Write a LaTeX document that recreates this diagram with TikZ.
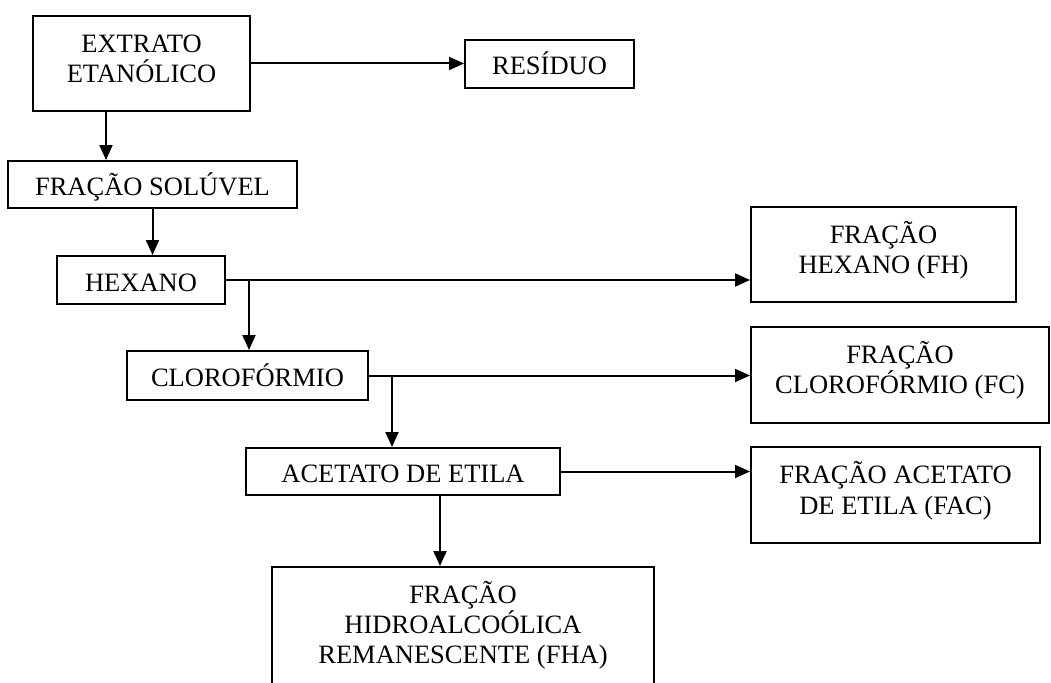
\documentclass[tikz,border=0pt]{standalone}
\usepackage{fontspec}
\setmainfont{Liberation Serif}
\usetikzlibrary{arrows.meta}
\tikzset{
  box/.style={draw, line width=2pt, inner sep=0pt, fill=none},
  txt/.style={anchor=base, inner sep=0pt, font=\fontsize{26.5}{30}\selectfont},
  arr/.style={line width=2pt, -{Triangle[length=15pt,width=13pt]}},
}
\begin{document}
\begin{tikzpicture}[x=1pt,y=-1pt]
\clip (0,0) rectangle (1051,682);
\fill[white] (0,0) rectangle (1051,682);
% boxes
\node[box, minimum width=217pt, minimum height=95pt] (ext) at (141.5,63.5) {};
\node[box, minimum width=169pt, minimum height=48pt] (res) at (549.5,64) {};
\node[box, minimum width=289pt, minimum height=47pt] (sol) at (152.5,184.5) {};
\node[box, minimum width=168pt, minimum height=48pt] (hex) at (141,280) {};
\node[box, minimum width=265pt, minimum height=95pt] (fh) at (883.5,254.5) {};
\node[box, minimum width=241pt, minimum height=49pt] (clo) at (247.5,375.5) {};
\node[box, minimum width=298pt, minimum height=96pt] (fc) at (900,375) {};
\node[box, minimum width=314pt, minimum height=47pt] (ace) at (403,471.5) {};
\node[box, minimum width=289pt, minimum height=96pt] (fac) at (895.5,495) {};
\node[box, minimum width=382pt, minimum height=160pt] (fha) at (463,647) {};
% texts
\node[txt] (t1) at (141.5,53) {EXTRATO};
\node[txt] (t2) at (141.5,83) {ETANÓLICO};
\node[txt] (t3) at (549.5,75) {RESÍDUO};
\node[txt] (t4) at (152.5,195) {FRAÇÃO SOLÚVEL};
\node[txt] (t5) at (141,291) {HEXANO};
\node[txt] (t6) at (883.5,243) {FRAÇÃO};
\node[txt] (t7) at (883.5,273) {HEXANO (FH)};
\node[txt] (t8) at (247.5,386) {CLOROFÓRMIO};
\node[txt] (t9) at (900,363) {FRAÇÃO};
\node[txt] (t10) at (900,393) {CLOROFÓRMIO (FC)};
\node[txt] (t11) at (403,482) {ACETATO DE ETILA};
\node[txt] (t12) at (895.5,483) {FRAÇÃO ACETATO};
\node[txt] (t13) at (895.5,514) {DE ETILA (FAC)};
\node[txt] (t14) at (463,603) {FRAÇÃO};
\node[txt] (t15) at (463,633) {HIDROALCOÓLICA};
\node[txt] (t16) at (463,663) {REMANESCENTE (FHA)};
% connectors
\draw[arr] (ext.east) -- (ext.east -| res.west);
\draw[arr] ([xshift=-35.5pt]ext.south) -- ([xshift=-35.5pt]ext.south |- sol.north);
\draw[arr] (sol.south) -- (sol.south |- hex.north);
\draw[arr] (hex.east) -- (hex.east -| fh.west);
\coordinate (b1) at (249,280);
\draw[arr] (b1) -- (b1 |- clo.north);
\draw[arr] (clo.east) -- (clo.east -| fc.west);
\coordinate (b2) at (392,375.5);
\draw[arr] (b2) -- (b2 |- ace.north);
\draw[arr] (ace.east) -- (ace.east -| fac.west);
\draw[arr] ([xshift=37pt]ace.south) -- ([xshift=37pt]ace.south |- fha.north);
\end{tikzpicture}
\end{document}
